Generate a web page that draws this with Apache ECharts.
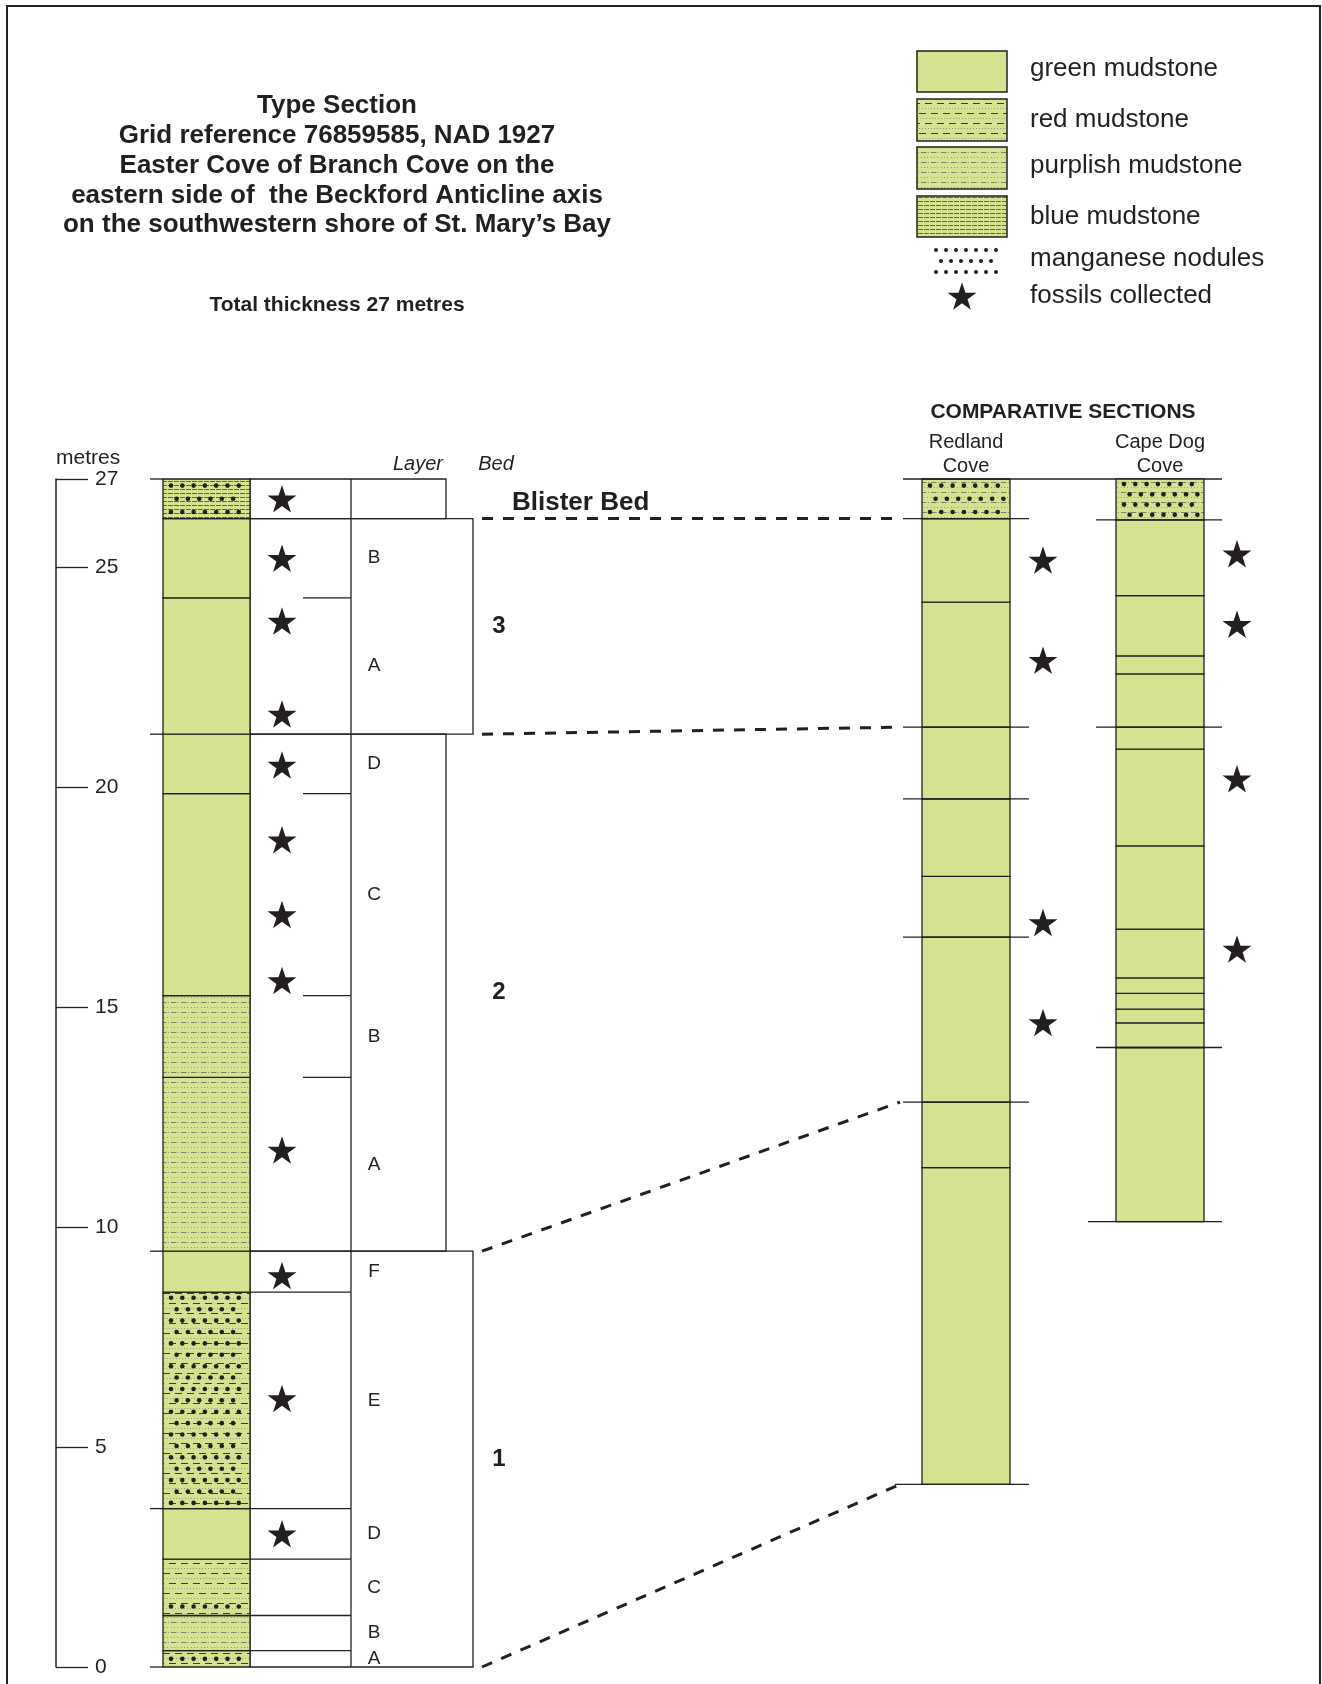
<!DOCTYPE html>
<html>
<head>
<meta charset="utf-8">
<script src="https://cdn.jsdelivr.net/npm/echarts@6/dist/echarts.min.js"></script>
<style>
html,body{margin:0;padding:0;background:#fff;}
#chart{width:1322px;height:1684px;}
</style>
</head>
<body>
<div id="chart"></div>
<script>
// ---------------- DATA ----------------
const tickValues = [0, 5, 10, 15, 20, 25, 27];
// Type section lithology (metres)
const typeBounds = [0, 0.37, 1.17, 2.45, 3.6, 8.52, 9.45, 13.4, 15.26, 19.85, 21.2, 24.3, 26.1, 27];
const typeLitho = ['red', 'purplish', 'red', 'green', 'red', 'green', 'purplish', 'purplish', 'green', 'green', 'green', 'green', 'blue'];
const typeNoduleBands = [[0, 0.37], [1.2, 1.55], [3.6, 8.52], [26.1, 27]];
const typeLeftMarks = [0, 3.6, 9.45, 21.2, 27];
// Layers and beds
const layerBounds = [0, 0.37, 1.17, 2.45, 3.6, 8.52, 9.45, 13.4, 15.26, 19.85, 21.2, 24.3, 26.1];
const layerNames = ['A', 'B', 'C', 'D', 'E', 'F', 'A', 'B', 'C', 'D', 'A', 'B'];
const bedBounds = [0, 9.45, 21.2, 26.1, 27];
const bedNames = ['1', '2', '3', ''];
const typeStars = [3.03, 6.1, 8.9, 11.75, 15.6, 17.1, 18.8, 20.5, 21.66, 23.77, 25.2, 26.55];
// Comparative sections
const redlandBounds = [4.15, 11.35, 12.84, 16.59, 17.97, 19.73, 21.36, 24.2, 26.1, 27];
const redlandLitho = ['green', 'green', 'green', 'green', 'green', 'green', 'green', 'green', 'purplish'];
const redlandMarked = [4.15, 12.84, 16.59, 19.73, 21.36, 26.1];
const redlandStars = [14.65, 16.92, 22.88, 25.16];
const capeDogBounds = [10.12, 14.08, 14.64, 14.95, 15.31, 15.66, 16.77, 18.66, 20.86, 21.36, 22.57, 22.98, 24.35, 26.07, 27];
const capeDogLitho = ['green', 'green', 'green', 'green', 'green', 'green', 'green', 'green', 'green', 'green', 'green', 'green', 'green', 'purplish'];
const capeDogMarked = [10.12, 14.08, 21.36, 26.07];
const capeDogStars = [16.32, 20.19, 23.7, 25.3];
const compNoduleBands = [[26.1, 27, 1], [26.07, 27, 2]];
// Correlations (type section -> Redland Cove)
const corrType = [0, 9.45, 21.2, 26.1];
const corrRedland = [4.15, 12.84, 21.36, 26.1];
// Texts
const titleLines = ['Type Section', 'Grid reference 76859585, NAD 1927', 'Easter Cove of Branch Cove on the', 'eastern side of  the Beckford Anticline axis', 'on the southwestern shore of St. Mary\u2019s Bay'];
const subtitle = 'Total thickness 27 metres';
const legendNames = ['green mudstone', 'red mudstone', 'purplish mudstone', 'blue mudstone', 'manganese nodules', 'fossils collected'];

// ---------------- LAYOUT / STYLE ----------------
const INK = '#231f20';
const GREEN = '#d5e28f';
const FONT = '"Liberation Sans", Arial, Helvetica, sans-serif';
const COL_L = 163, COL_R = 250, STAR_X = 282, LAYER_X = 351, LAYER_LABEL_X = 374;
const PART_X = 303, TICK_L = 150, BED_LABEL_X = 499;
const BED_RIGHT = [473, 446, 473, 446];
const RED_L = 922, RED_R = 1010, RED_EXT_L = 903, RED_EXT_R = 1029, RED_STAR_X = 1043;
const CAPE_L = 1116, CAPE_R = 1204, CAPE_EXT_L = 1096, CAPE_EXT_R = 1222, CAPE_STAR_X = 1237;
const NODULE_COLS = [[COL_L, COL_R], [RED_L, RED_R], [CAPE_L, CAPE_R]];
const CORR_X0 = 482, CORR_X1 = 900;
const STAR_PATH = 'path://M50,0 L61.8,35.1 L98.9,35.1 L68.9,56.9 L80.3,91.9 L50,70.2 L19.7,91.9 L31.1,56.9 L1.1,35.1 L38.2,35.1 Z';

function tile(w, h, draw) {
  const c = document.createElement('canvas');
  c.width = w; c.height = h;
  const g = c.getContext('2d');
  g.fillStyle = GREEN; g.fillRect(0, 0, w, h);
  draw(g);
  return { image: c, repeat: 'repeat' };
}
const fills = {
  green: GREEN,
  red: tile(12, 20, g => {
    g.strokeStyle = '#3b3b32'; g.lineWidth = 1;
    g.beginPath();
    g.moveTo(1, 3.5); g.lineTo(8, 3.5);
    g.moveTo(7, 13.5); g.lineTo(12, 13.5); g.moveTo(0, 13.5); g.lineTo(2, 13.5);
    g.stroke();
    g.fillStyle = '#9c9c84';
    for (let x = 1; x < 12; x += 3) { g.fillRect(x, 8, 1, 1); g.fillRect(x + 1, 18, 1, 1); }
  }),
  purplish: tile(10, 10, g => {
    g.strokeStyle = '#66665a'; g.lineWidth = 0.8;
    g.beginPath(); g.moveTo(1, 2.5); g.lineTo(6.5, 2.5); g.stroke();
    g.fillStyle = '#9a9a82';
    g.fillRect(8, 2, 1, 1);
    g.fillRect(1, 7, 1, 1); g.fillRect(4, 7, 1, 1); g.fillRect(7, 7, 1, 1);
  }),
  blue: tile(6, 4, g => {
    g.strokeStyle = '#45453b'; g.lineWidth = 0.8;
    g.beginPath(); g.moveTo(0, 1.5); g.lineTo(5, 1.5); g.stroke();
  })
};

function px(api, x) { return api.coord([x, 0])[0]; }
function py(api, v) { return api.coord([COL_L, v])[1]; }

// ---------------- SERIES ----------------
const typeLithoSeries = {
  type: 'custom', name: 'type-litho', z: 3,
  data: typeLitho.map((k, i) => [typeBounds[i], typeBounds[i + 1], i]),
  renderItem: (params, api) => {
    const b = api.value(0), t = api.value(1), k = typeLitho[api.value(2)];
    const x0 = px(api, COL_L), x1 = px(api, COL_R), yt = py(api, t), yb = py(api, b);
    return { type: 'rect', shape: { x: x0, y: yt, width: x1 - x0, height: yb - yt },
      style: { fill: fills[k], stroke: INK, lineWidth: 1.3 } };
  }
};

const noduleSeries = {
  type: 'custom', name: 'nodules', z: 5,
  data: typeNoduleBands.map(d => [d[0], d[1], 0]).concat(compNoduleBands),
  renderItem: (params, api) => {
    const b = api.value(0), t = api.value(1), col = NODULE_COLS[api.value(2)];
    const yt = py(api, t), yb = py(api, b);
    const xl = px(api, col[0]), xr = px(api, col[1]);
    const h = yb - yt, n = Math.max(1, Math.round(h / 11.4));
    const children = [];
    for (let r = 0; r < n; r++) {
      const y = yt + (r + 0.5) * h / n;
      const off = r % 2 ? 13.6 : 8;
      for (let x = xl + off; x < xr - 6; x += 11.3) {
        children.push({ type: 'circle', shape: { cx: x, cy: y, r: 2.3 }, style: { fill: INK } });
      }
    }
    return { type: 'group', children };
  }
};

const bedSeries = {
  type: 'custom', name: 'beds', z: 2,
  data: bedNames.map((n, i) => [bedBounds[i], bedBounds[i + 1], i]),
  renderItem: (params, api) => {
    const b = api.value(0), t = api.value(1), i = api.value(2);
    const x0 = px(api, COL_R), x1 = px(api, BED_RIGHT[i]), xl = px(api, LAYER_X);
    const yt = py(api, t), yb = py(api, b);
    const children = [
      { type: 'rect', shape: { x: x0, y: yt, width: x1 - x0, height: yb - yt },
        style: { fill: 'none', stroke: INK, lineWidth: 1.3 } },
      { type: 'line', shape: { x1: xl, y1: yt, x2: xl, y2: yb }, style: { stroke: INK, lineWidth: 1.3 } }
    ];
    if (bedNames[i]) {
      children.push({ type: 'text', x: px(api, BED_LABEL_X), y: (yt + yb) / 2,
        style: { text: bedNames[i], fill: INK, font: 'bold 24px ' + FONT, textAlign: 'center', textVerticalAlign: 'middle' } });
    }
    return { type: 'group', children };
  }
};

const layerSeries = {
  type: 'custom', name: 'layers', z: 4,
  data: layerNames.map((n, i) => [layerBounds[i], layerBounds[i + 1], i]),
  renderItem: (params, api) => {
    const b = api.value(0), t = api.value(1), i = api.value(2);
    const yt = py(api, t), yb = py(api, b);
    const children = [
      { type: 'text', x: px(api, LAYER_LABEL_X), y: (yt + yb) / 2,
        style: { text: layerNames[i], fill: INK, font: '19px ' + FONT, textAlign: 'center', textVerticalAlign: 'middle' } }
    ];
    if (bedBounds.indexOf(b) < 0) {
      const x0 = b < bedBounds[1] ? px(api, COL_R) : px(api, PART_X);
      children.push({ type: 'line', shape: { x1: x0, y1: yb, x2: px(api, LAYER_X), y2: yb },
        style: { stroke: INK, lineWidth: 1.3 } });
    }
    return { type: 'group', children };
  }
};

const leftMarkSeries = {
  type: 'custom', name: 'left-marks', z: 4,
  data: typeLeftMarks.map(v => [v]),
  renderItem: (params, api) => {
    const y = py(api, api.value(0));
    return { type: 'line', shape: { x1: px(api, TICK_L), y1: y, x2: px(api, COL_L), y2: y },
      style: { stroke: INK, lineWidth: 1.3 } };
  }
};

function compSeries(name, bounds, litho, marked, L, R, EL, ER, isFirst) {
  return {
    type: 'custom', name, z: 3,
    data: litho.map((k, i) => [bounds[i], bounds[i + 1], i]),
    renderItem: (params, api) => {
      const b = api.value(0), t = api.value(1), i = api.value(2);
      const x0 = px(api, L), x1 = px(api, R), yt = py(api, t), yb = py(api, b);
      const children = [
        { type: 'rect', shape: { x: x0, y: yt, width: x1 - x0, height: yb - yt },
          style: { fill: fills[litho[i]], stroke: INK, lineWidth: 1.3 } }
      ];
      if (marked.indexOf(b) >= 0) {
        const el = i === 0 ? px(api, EL) - 8 : px(api, EL);
        children.push({ type: 'line', shape: { x1: el, y1: yb, x2: px(api, ER), y2: yb },
          style: { stroke: INK, lineWidth: 1.3 } });
      }
      if (isFirst && i === litho.length - 1) {
        children.push({ type: 'line', shape: { x1: px(api, EL), y1: yt, x2: px(api, CAPE_EXT_R), y2: yt },
          style: { stroke: INK, lineWidth: 1.3 } });
      }
      return { type: 'group', children };
    }
  };
}

const corrSeries = {
  type: 'custom', name: 'correlation', z: 2,
  data: corrType.map((v, i) => [v, corrRedland[i]]),
  renderItem: (params, api) => {
    const y0 = py(api, api.value(0)), y1 = py(api, api.value(1));
    return { type: 'line', shape: { x1: px(api, CORR_X0), y1: y0, x2: px(api, CORR_X1), y2: y1 },
      style: { stroke: INK, lineWidth: 3, lineDash: [11, 10] } };
  }
};

function starSeries(name, x, vals) {
  return {
    type: 'scatter', name, z: 6, symbol: STAR_PATH, symbolSize: [29, 27.5],
    itemStyle: { color: INK, opacity: 1 },
    data: vals.map(v => [x, v]), silent: true
  };
}

// ---------------- GRAPHIC (titles, legend, frame) ----------------
function starPoints(cx, cyBox, R) {
  const cy = cyBox + 0.0955 * R;
  const pts = [];
  for (let k = 0; k < 10; k++) {
    const r = k % 2 ? R * 0.382 : R;
    const a = -Math.PI / 2 + k * Math.PI / 5;
    pts.push([cx + r * Math.cos(a), cy + r * Math.sin(a)]);
  }
  return pts;
}
const graphics = [];
graphics.push({ type: 'rect', shape: { x: 7, y: 6, width: 1313, height: 1720 },
  style: { fill: 'none', stroke: INK, lineWidth: 2 }, z: 0 });
const titleY = [106, 136, 166, 196, 225];
titleLines.forEach((s, i) => graphics.push({ type: 'text', x: 337, y: titleY[i],
  style: { text: s, fill: INK, font: 'bold 26px ' + FONT, textAlign: 'center', textVerticalAlign: 'middle' } }));
graphics.push({ type: 'text', x: 337, y: 305,
  style: { text: subtitle, fill: INK, font: 'bold 21px ' + FONT, textAlign: 'center', textVerticalAlign: 'middle' } });
// legend swatches
const swatchY = [[51, 41], [99, 42], [147, 42], [196, 41]];
['green', 'red', 'purplish', 'blue'].forEach((k, i) => graphics.push({ type: 'rect',
  shape: { x: 917, y: swatchY[i][0], width: 90, height: swatchY[i][1] },
  style: { fill: fills[k], stroke: INK, lineWidth: 1.5 } }));
[250, 261, 272].forEach((y, r) => {
  const n = r === 1 ? 6 : 7, x0 = r === 1 ? 941 : 936;
  for (let k = 0; k < n; k++) graphics.push({ type: 'circle', shape: { cx: x0 + k * 10, cy: y, r: 2 }, style: { fill: INK } });
});
graphics.push({ type: 'polygon', shape: { points: starPoints(962, 296, 15.2) }, style: { fill: INK } });
const legendY = [69, 120, 166, 217, 259, 296];
legendNames.forEach((s, i) => graphics.push({ type: 'text', x: 1030, y: legendY[i],
  style: { text: s, fill: INK, font: '26px ' + FONT, textAlign: 'left', textVerticalAlign: 'middle' } }));
// headers
graphics.push({ type: 'text', x: 1063, y: 412,
  style: { text: 'COMPARATIVE SECTIONS', fill: INK, font: 'bold 21px ' + FONT, textAlign: 'center', textVerticalAlign: 'middle' } });
[['Redland', 966, 442], ['Cove', 966, 466], ['Cape Dog', 1160, 442], ['Cove', 1160, 466]].forEach(d =>
  graphics.push({ type: 'text', x: d[1], y: d[2],
    style: { text: d[0], fill: INK, font: '20px ' + FONT, textAlign: 'center', textVerticalAlign: 'middle' } }));
[['Layer', 418], ['Bed', 496]].forEach(d => graphics.push({ type: 'text', x: d[1], y: 464,
  style: { text: d[0], fill: INK, font: 'italic 20px ' + FONT, textAlign: 'center', textVerticalAlign: 'middle' } }));
graphics.push({ type: 'text', x: 512, y: 503,
  style: { text: 'Blister Bed', fill: INK, font: 'bold 26px ' + FONT, textAlign: 'left', textVerticalAlign: 'middle' } });

// ---------------- CHART ----------------
const chart = echarts.init(document.getElementById('chart'), null, { renderer: 'canvas' });
chart.setOption({
  animation: false,
  backgroundColor: '#ffffff',
  grid: { left: 56, right: 0, top: 479, bottom: 17, containLabel: false },
  xAxis: { type: 'value', min: 56, max: 1322, show: false },
  yAxis: {
    type: 'value', min: 0, max: 27, position: 'left',
    axisLine: { show: true, lineStyle: { color: INK, width: 1.5 } },
    axisTick: { show: true, inside: true, length: 32, lineStyle: { color: INK, width: 1.3 }, customValues: tickValues },
    axisLabel: { show: true, inside: true, margin: 39, customValues: tickValues, fontSize: 21, color: INK, fontFamily: FONT },
    splitLine: { show: false },
    name: 'metres', nameLocation: 'end', nameGap: 21,
    nameTextStyle: { align: 'left', verticalAlign: 'middle', fontSize: 21, color: INK, fontFamily: FONT }
  },
  graphic: { elements: graphics },
  series: [
    corrSeries,
    bedSeries,
    typeLithoSeries,
    layerSeries,
    leftMarkSeries,
    compSeries('redland', redlandBounds, redlandLitho, redlandMarked, RED_L, RED_R, RED_EXT_L, RED_EXT_R, true),
    compSeries('capeDog', capeDogBounds, capeDogLitho, capeDogMarked, CAPE_L, CAPE_R, CAPE_EXT_L, CAPE_EXT_R, false),
    noduleSeries,
    starSeries('type-stars', STAR_X, typeStars),
    starSeries('redland-stars', RED_STAR_X, redlandStars),
    starSeries('capedog-stars', CAPE_STAR_X, capeDogStars)
  ]
});
</script>
</body>
</html>
